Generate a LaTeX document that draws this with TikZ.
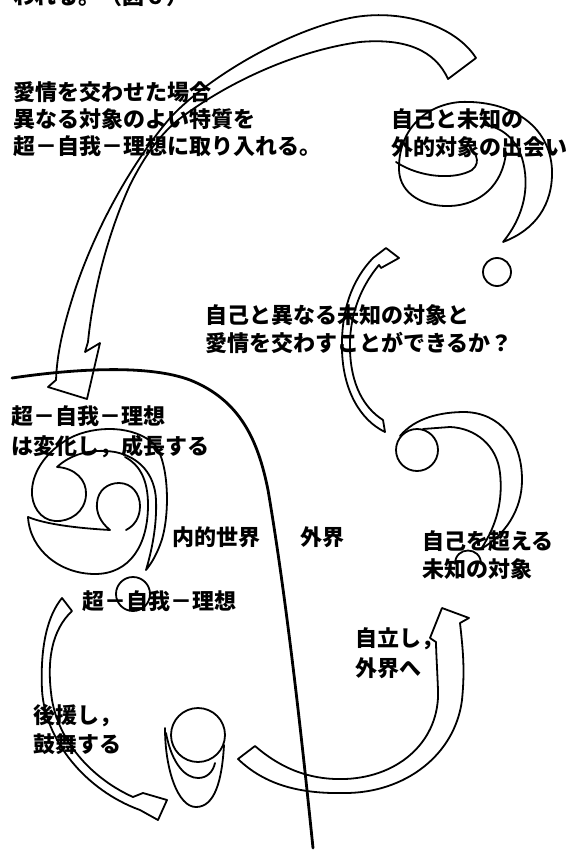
\documentclass[tikz,border=0pt]{standalone}
\usepackage{fontspec}
\newfontfamily\jp{Noto Sans CJK JP}
\begin{document}
\begin{tikzpicture}[x=1pt,y=-1pt,
  fig/.style={line width=1.8pt, line join=round, line cap=round},
  bound/.style={line width=2.8pt, line cap=round},
  lbl/.style={font=\jp\bfseries\fontsize{22}{28}\selectfont, anchor=west, inner sep=0pt, align=left}]
\useasboundingbox (0,0) rectangle (570,850);
\clip (0,0) rectangle (570,850);
\fill[white] (0,0) rectangle (570,850);

% texts
\node[lbl] (t0) at (13,-4) {われる。（図６）};
\node[lbl, font=\jp\bfseries\fontsize{22}{27}\selectfont] (t1) at (13,119) {愛情を交わせた場合\\異なる対象のよい特質を\\超－自我－理想に取り入れる。};
\node[lbl] (t2) at (391,133) {自己と未知の\\外的対象の出会い};
\node[lbl] (t3) at (205,329) {自己と異なる未知の対象と\\愛情を交わすことができるか？};
\node[lbl, font=\jp\bfseries\fontsize{22}{30}\selectfont] (t4) at (11,432) {超－自我－理想\\は変化し，成長する};
\node[lbl] (t5) at (172,537) {内的世界};
\node[lbl] (t6) at (300,537) {外界};
\node[lbl] (t7) at (422,555) {自己を超える\\未知の対象};
\node[lbl] (t8) at (82,601) {超－自我－理想};
\node[lbl, font=\jp\bfseries\fontsize{22}{30}\selectfont] (t9) at (355,653) {自立し，\\外界へ};
\node[lbl, font=\jp\bfseries\fontsize{22}{29}\selectfont] (t10) at (33,730) {後援し，\\鼓舞する};

% boundary between inner world and outer world
\draw[bound] (12,378) .. controls (80,368) and (150,365) .. (190,380)
  .. controls (240,400) and (258,440) .. (268,490)
  .. controls (285,590) and (300,720) .. (313,848);

% top big arrow
\draw[fig] (476,58) .. controls (455,25) and (400,8) .. (350,18)
  .. controls (290,30) and (210,75) .. (170,118)
  .. controls (130,165) and (95,230) .. (75,290)
  .. controls (62,330) and (57,355) .. (56,380)
  -- (48,387) -- (87,399) -- (100,343) -- (85,352) -- (88,342)
  .. controls (92,300) and (105,240) .. (130,185)
  .. controls (145,155) and (160,135) .. (178,120)
  .. controls (230,80) and (300,50) .. (360,42)
  .. controls (405,38) and (435,50) .. (448,79) -- cycle;

% top right magatama
\draw[fig] (399,170) .. controls (398,130) and (425,105) .. (460,102)
  .. controls (510,100) and (550,125) .. (552,170)
  .. controls (553,205) and (535,230) .. (503,242)
  .. controls (525,215) and (530,185) .. (522,158)
  .. controls (515,137) and (500,127) .. (485,125);
\draw[fig] (399,170) .. controls (400,195) and (425,207) .. (450,206)
  .. controls (480,205) and (503,185) .. (506,152);
\draw[fig] (396,162) .. controls (420,178) and (455,180) .. (472,170)
  .. controls (477,166) and (478,161) .. (476,156);
\draw[fig] (497,272) circle[radius=14pt];

% middle right arrow
\draw[fig] (386,248) -- (399,258) -- (381,268) -- (379,265)
  .. controls (358,290) and (349,320) .. (350,350)
  .. controls (351,385) and (364,408) .. (383,420) -- (385,432)
  .. controls (360,420) and (343,390) .. (342,350)
  .. controls (341,310) and (352,280) .. (373,258) -- cycle;

% lower right magatama
\draw[fig] (417,450) circle[radius=21pt];
\draw[fig] (400,436) .. controls (415,418) and (440,412) .. (465,412)
  .. controls (500,413) and (522,440) .. (522,480)
  .. controls (522,510) and (505,535) .. (481,549)
  .. controls (497,525) and (503,500) .. (500,473)
  .. controls (497,445) and (475,428) .. (450,427) -- (423,429);
\draw[fig] (455,564) .. controls (455,546) and (481,546) .. (481,564);

% left tomoe
\draw[fig] (57,467) .. controls (75,468) and (87,480) .. (86,495)
  .. controls (85,512) and (70,522) .. (55,521)
  .. controls (40,520) and (31,505) .. (32,490)
  .. controls (33,470) and (48,450) .. (70,438)
  .. controls (95,425) and (135,425) .. (155,445)
  .. controls (170,465) and (170,520) .. (160,545)
  .. controls (155,558) and (150,565) .. (146,570)
  .. controls (152,550) and (157,525) .. (156,500)
  .. controls (155,475) and (140,457) .. (115,452)
  .. controls (90,448) and (70,455) .. (57,467);
\draw[fig] (28,517) .. controls (45,524) and (75,528) .. (110,530)
  .. controls (100,522) and (96,512) .. (97,503)
  .. controls (98,490) and (108,483) .. (119,483)
  .. controls (132,483) and (140,494) .. (140,506)
  .. controls (140,518) and (134,526) .. (126,530);
\draw[fig] (28,517) .. controls (30,550) and (60,574) .. (95,574)
  .. controls (130,574) and (148,545) .. (148,505)
  .. controls (148,480) and (140,465) .. (125,457);
\draw[fig] (133,594) circle[radius=17pt];

% lower left arrow
\draw[fig] (62,598) .. controls (48,615) and (40,645) .. (42,690)
  .. controls (45,740) and (85,790) .. (140,810)
  -- (158,820) -- (167,800) -- (143,793) -- (133,797)
  .. controls (95,780) and (60,745) .. (52,700)
  .. controls (46,660) and (52,630) .. (72,611) -- cycle;

% bottom egg figure
\draw[fig] (198,735) circle[radius=27pt];
\draw[fig] (165,728) .. controls (165,770) and (178,807) .. (196,807)
  .. controls (215,807) and (222,780) .. (224,745);
\draw[fig] (166,733) .. controls (172,765) and (186,778) .. (198,778)
  .. controls (207,778) and (213,772) .. (215,763);

% bottom right arrow
\draw[fig] (238,759) -- (255,746)
  .. controls (285,772) and (315,780) .. (345,779)
  .. controls (400,777) and (440,740) .. (438,690)
  .. controls (437,665) and (436,650) .. (436,642)
  -- (430,638) -- (442,608) -- (469,618) -- (460,623)
  .. controls (463,650) and (465,670) .. (462,700)
  .. controls (455,755) and (405,793) .. (345,793)
  .. controls (300,794) and (265,785) .. (238,759) -- cycle;
\end{tikzpicture}
\end{document}
